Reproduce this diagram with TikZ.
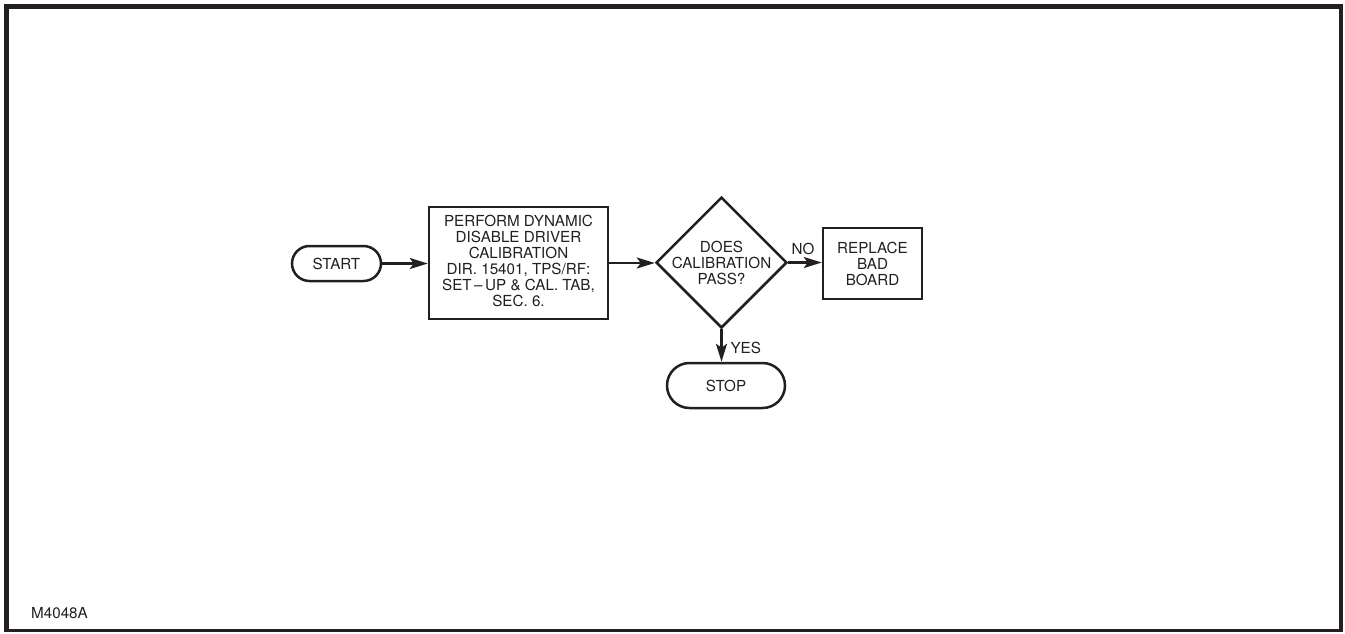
\documentclass[tikz,border=0pt]{standalone}
\usepackage{fontspec}
\setmainfont{TeX Gyre Heros}
\usetikzlibrary{shapes.geometric,shapes.misc,arrows.meta}
\definecolor{ink}{RGB}{35,31,32}
\begin{document}
\begin{tikzpicture}[x=1pt,y=-1pt,
  lbl/.style={font=\fontsize{15.2}{16}\selectfont, align=center, text=ink},
  box/.style={draw=ink, line width=2.5pt, inner sep=0pt, lbl},
  pill/.style={draw=ink, rounded rectangle, line width=2.5pt, inner sep=0pt, lbl},
  arr/.style={draw=ink, line width=2.2pt, -{Stealth[length=18pt,width=11pt,inset=4pt]}},
  frame/.style={draw=ink, line width=4.5pt}]
\useasboundingbox (0,0) rectangle (1345,633);
% frame
\draw[frame] (6.5,631.5) -- (6.5,6.7) -- (1341,6.7) -- (1341,631.5);
\draw[draw=ink, line width=2.5pt] (5,630.5) -- (1343,630.5);
% nodes
\node[pill, minimum width=89pt, minimum height=35pt] (start) at (336.5,263.5) {START};
\node[box, minimum width=179pt, minimum height=112pt] (perf) at (518.5,263)
  {PERFORM DYNAMIC\\DISABLE DRIVER\\CALIBRATION\\DIR. 15401, TPS/RF:\\SET\,\textendash\,UP \& CAL. TAB,\\SEC. 6.\\[-11pt]\mbox{}};
\node[draw=ink, diamond, aspect=1, minimum width=131pt, minimum height=131pt, inner sep=0pt, line width=2.5pt,
  label={[lbl]center:DOES\\CALIBRATION\\PASS?}] (dia) at (721.5,262.5) {};
\node[box, minimum width=99pt, minimum height=71pt] (rep) at (872.5,263.5) {REPLACE\\BAD\\BOARD};
\node[pill, minimum width=118pt, minimum height=45pt] (stop) at (726,385.5) {STOP};
\node[lbl, anchor=west, inner sep=0pt] (code) at (31,613) {M4048A};
% connectors
\draw[arr] (start.east) -- (start.east -| perf.west);
\draw[arr] (perf.east) -- (perf.east -| dia.west);
\draw[arr] (dia.east) -- (dia.east -| rep.west) node[lbl, pos=0.44, inner sep=0pt, anchor=base, yshift=8.5pt] {NO};
\draw[arr] (dia.south) -- (dia.south |- stop.north) node[lbl, pos=0.57, inner sep=0pt, anchor=west, xshift=8pt] {YES};
\end{tikzpicture}
\end{document}
